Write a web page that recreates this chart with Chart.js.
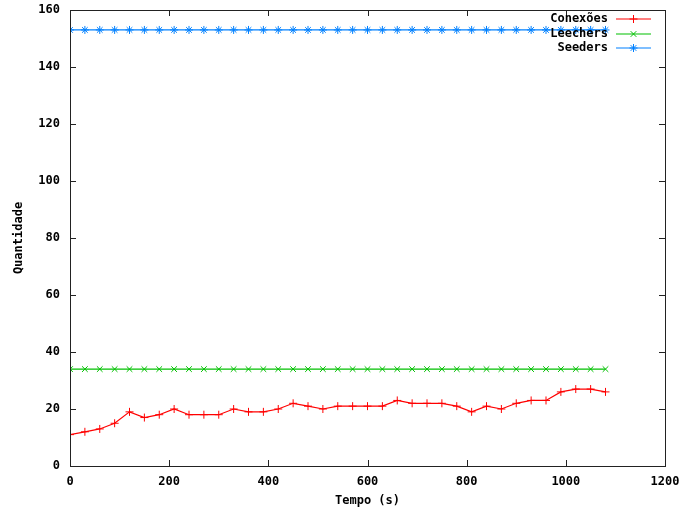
<!DOCTYPE html>
<html>
<head>
<meta charset="utf-8">
<script src="https://cdn.jsdelivr.net/npm/chart.js@4/dist/chart.umd.min.js"></script>
<style>
  html, body { margin: 0; padding: 0; background: #fff; }
  #wrap { width: 687px; height: 515px; }
</style>
</head>
<body>
<div id="wrap"><canvas id="c" width="687" height="515"></canvas></div>
<script>
// Sample times (seconds)
const times = [0, 30, 60, 90, 120, 150, 180, 210, 240, 270, 300, 330, 360, 390, 420, 450, 480, 510, 540,
  570, 600, 630, 660, 690, 720, 750, 780, 810, 840, 870, 900, 930, 960, 990, 1020, 1050, 1080];

// Counts per sample
const conexoes = [11, 12, 13, 15, 19, 17, 18, 20, 18, 18, 18, 20, 19, 19, 20, 22, 21, 20, 21,
  21, 21, 21, 23, 22, 22, 22, 21, 19, 21, 20, 22, 23, 23, 26, 27, 27, 26];
const leechers = [34, 34, 34, 34, 34, 34, 34, 34, 34, 34, 34, 34, 34, 34, 34, 34, 34, 34, 34,
  34, 34, 34, 34, 34, 34, 34, 34, 34, 34, 34, 34, 34, 34, 34, 34, 34, 34];
const seeders = [153, 153, 153, 153, 153, 153, 153, 153, 153, 153, 153, 153, 153, 153, 153, 153, 153, 153, 153,
  153, 153, 153, 153, 153, 153, 153, 153, 153, 153, 153, 153, 153, 153, 153, 153, 153, 153];

const seriesNames = ['Conexões', 'Leechers', 'Seeders'];
const xTicks = [0, 200, 400, 600, 800, 1000, 1200];
const yTicks = [0, 20, 40, 60, 80, 100, 120, 140, 160];

const FONT = '"DejaVu Sans Mono", "Liberation Mono", monospace';
const pts = arr => arr.map((v, i) => ({ x: times[i], y: v }));

const colors = ['#ff0000', '#00c000', '#0080ff'];
const styles = ['cross', 'crossRot', 'star'];
const values = [conexoes, leechers, seeders];

// Frame with inward ticks on all four sides
const framePlugin = {
  id: 'frame',
  afterDatasetsDraw(chart) {
    const { ctx, chartArea: a, scales } = chart;
    ctx.save();
    ctx.strokeStyle = '#222';
    ctx.lineWidth = 1;
    ctx.strokeRect(Math.round(a.left) + 0.5, Math.round(a.top) + 0.5,
      Math.round(a.right - a.left), Math.round(a.bottom - a.top));
    const L = 6;
    ctx.beginPath();
    xTicks.forEach(v => {
      const x = Math.round(scales.x.getPixelForValue(v)) + 0.5;
      ctx.moveTo(x, a.bottom); ctx.lineTo(x, a.bottom - L);
      ctx.moveTo(x, a.top); ctx.lineTo(x, a.top + L);
    });
    yTicks.forEach(v => {
      const y = Math.round(scales.y.getPixelForValue(v)) + 0.5;
      ctx.moveTo(a.left, y); ctx.lineTo(a.left + L, y);
      ctx.moveTo(a.right, y); ctx.lineTo(a.right - L, y);
    });
    ctx.stroke();
    ctx.restore();
  }
};

// Key in the upper right corner: right-aligned names followed by a line sample
const keyPlugin = {
  id: 'key',
  afterDraw(chart) {
    const { ctx, chartArea: a } = chart;
    ctx.save();
    ctx.font = 'bold 12px ' + FONT;
    ctx.textAlign = 'right';
    ctx.textBaseline = 'middle';
    const textRight = a.right - 57;
    const x0 = a.right - 49, x1 = a.right - 14;
    seriesNames.forEach((name, i) => {
      const y = Math.round(a.top + 9 + i * 14.5);
      ctx.fillStyle = '#000';
      ctx.fillText(name, textRight, y);
      ctx.strokeStyle = colors[i];
      ctx.fillStyle = colors[i];
      ctx.lineWidth = 1.2;
      ctx.beginPath();
      ctx.moveTo(x0, y);
      ctx.lineTo(x1, y);
      ctx.stroke();
      ctx.lineWidth = 1;
      Chart.helpers.drawPoint(ctx, {
        pointStyle: styles[i], radius: 4, borderWidth: 1, rotation: 0
      }, (x0 + x1) / 2, y);
    });
    ctx.restore();
  }
};

new Chart(document.getElementById('c'), {
  type: 'line',
  data: {
    datasets: values.map((arr, i) => ({
      label: seriesNames[i],
      data: pts(arr),
      borderColor: colors[i],
      backgroundColor: colors[i],
      borderWidth: 1.2,
      pointStyle: styles[i],
      pointRadius: 4,
      pointBorderWidth: 1,
      pointBorderColor: colors[i],
      tension: 0,
      fill: false
    }))
  },
  options: {
    responsive: false,
    animation: false,
    events: [],
    layout: { padding: { left: 0, right: 22, top: 10, bottom: 0 } },
    plugins: { legend: { display: false }, tooltip: { enabled: false } },
    scales: {
      x: {
        type: 'linear',
        min: 0, max: 1200,
        afterFit: s => { s.height = 49; s.paddingLeft = 0; s.paddingRight = 0; },
        afterBuildTicks: s => { s.ticks = xTicks.map(v => ({ value: v })); },
        grid: { display: false, drawTicks: false },
        border: { display: false },
        ticks: {
          color: '#000', padding: 9, autoSkip: false, maxRotation: 0,
          callback: v => String(v),
          font: { family: FONT, size: 12, weight: 'bold' }
        },
        title: {
          display: true, text: 'Tempo (s)', color: '#000',
          font: { family: FONT, size: 12, weight: 'bold' },
          padding: { top: 0, bottom: 7 }
        }
      },
      y: {
        type: 'linear',
        min: 0, max: 160,
        afterFit: s => { s.width = 70; s.paddingTop = 0; s.paddingBottom = 0; },
        afterBuildTicks: s => { s.ticks = yTicks.map(v => ({ value: v })); },
        grid: { display: false, drawTicks: false },
        border: { display: false },
        ticks: {
          color: '#000', padding: 10, autoSkip: false,
          callback: v => String(v),
          font: { family: FONT, size: 12, weight: 'bold' }
        },
        title: {
          display: true, text: 'Quantidade', color: '#000',
          font: { family: FONT, size: 12, weight: 'bold' },
          padding: { top: 12, bottom: 0 }
        }
      }
    }
  },
  plugins: [framePlugin, keyPlugin]
});
</script>
</body>
</html>
